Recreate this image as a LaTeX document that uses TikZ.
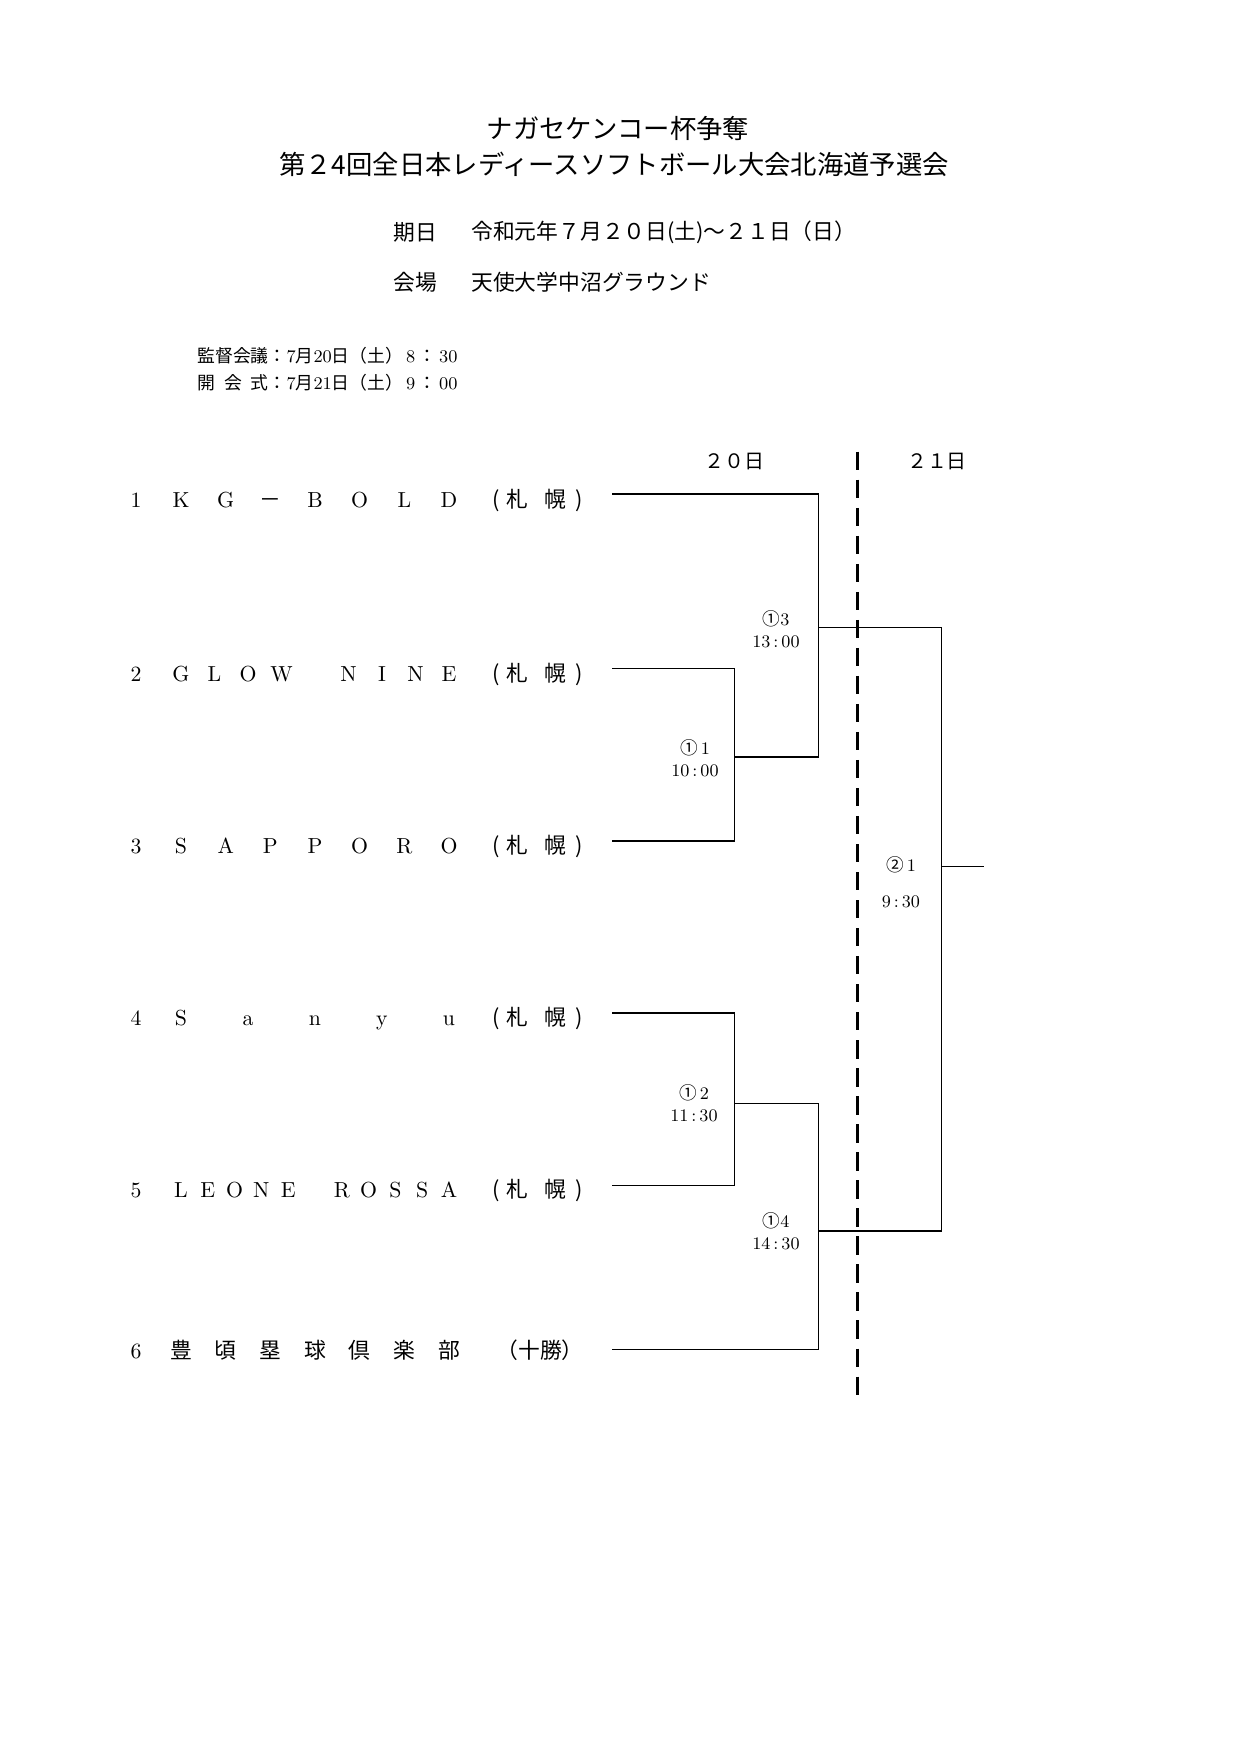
\documentclass[tikz,border=0pt]{standalone}
\usepackage{fontspec}
\newfontfamily\jp{Noto Sans CJK JP}
\usepackage{tikz}

% team names: letters spread evenly over a fixed width
\newcommand{\spreadname}[1]{%
  \makebox[49.15mm][s]{\foreach \ch [count=\k] in {#1}{\ifnum\k>1 \hfill\fi\makebox[3.73mm]{\ch}}}}
\newcommand{\sapporo}{(\hspace{.3em}札\hspace{.75em}幌\hspace{.4em})}

\tikzset{
  team/.style={anchor=base,inner sep=0pt,font=\fontsize{10.5}{12}\selectfont},
  region/.style={team,font=\jp\fontsize{10.5}{12}\selectfont},
  bracket/.style={line width=0.7pt},
  daysep/.style={line width=1.7pt,dash pattern=on 3.1mm off 1.65mm},
  gametime/.style={align=center,inner sep=0pt,font=\fontsize{8.5}{10.6}\selectfont},
}

\begin{document}
\begin{tikzpicture}[x=0.16949mm,y=-0.16949mm]
\fill[white] (0,0) rectangle (1239,1754);
\path[use as bounding box] (0,0) rectangle (1239,1754);

% heading
\node[font=\jp\fontsize{12.7}{15}\selectfont] (title1) at (618,128.6) {ナガセケンコー杯争奪};
\node[font=\jp\fontsize{12.7}{15}\selectfont] (title2) at (614,164) {第２4回全日本レディースソフトボール大会北海道予選会};
\node[anchor=west,inner sep=0pt,font=\jp\fontsize{10.5}{12}\selectfont] (datelbl) at (393,232.6) {期日};
\node[anchor=west,inner sep=0pt,font=\jp\fontsize{10.5}{12}\selectfont] (date) at (471,232.6) {令和元年７月２０日(土)～２１日（日）};
\node[anchor=west,inner sep=0pt,font=\jp\fontsize{10.5}{12}\selectfont] (venuelbl) at (393,281.8) {会場};
\node[anchor=west,inner sep=0pt,font=\jp\fontsize{10.5}{12}\selectfont] (venue) at (471,281.8) {天使大学中沼グラウンド};
\node[anchor=west,inner sep=0pt,font=\fontsize{8.6}{10}\selectfont] (meeting) at (197,355.6) {{\jp 監督会議：}7{\jp 月}20{\jp 日（土）}\,8\,{\jp ：}\,30};
\node[anchor=west,inner sep=0pt,font=\fontsize{8.6}{10}\selectfont] (opening) at (197,382.4) {{\jp\makebox[4em][s]{開\hfill 会\hfill 式}：}7{\jp 月}21{\jp 日（土）}\,9\,{\jp ：}\,00};

% days
\node[font=\jp\fontsize{9.6}{11}\selectfont] (day1) at (734.6,461.8) {２０日};
\node[font=\jp\fontsize{9.6}{11}\selectfont] (day2) at (937,461.8) {２１日};
\coordinate (d1) at (857.7,451.7);
\coordinate (d2) at (857.7,1395.5);
\draw[daysep] (d1) -- (d2);

% teams
\node[team] (n1) at (136,507) {1};
\node[team] (t1) at (315,507) {\spreadname{K,G,{\jp －},B,O,L,D}};
\node[region] (r1) at (537.5,507) {\sapporo};
\node[team] (n2) at (136,681) {2};
\node[team] (t2) at (315,681) {\spreadname{G,L,O,W,{},N,I,N,E}};
\node[region] (r2) at (537.5,681) {\sapporo};
\node[team] (n3) at (136,853) {3};
\node[team] (t3) at (315,853) {\spreadname{S,A,P,P,O,R,O}};
\node[region] (r3) at (537.5,853) {\sapporo};
\node[team] (n4) at (136,1025) {4};
\node[team] (t4) at (315,1025) {\spreadname{S,a,n,y,u}};
\node[region] (r4) at (537.5,1025) {\sapporo};
\node[team] (n5) at (136,1197) {5};
\node[team] (t5) at (315,1197) {\spreadname{L,E,O,N,E,{},R,O,S,S,A}};
\node[region] (r5) at (537.5,1197) {\sapporo};
\node[team] (n6) at (136,1358) {6};
\node[team] (t6) at (315,1358) {\spreadname{{\jp 豊},{\jp 頃},{\jp 塁},{\jp 球},{\jp 倶},{\jp 楽},{\jp 部}}};
\node[region] (r6) at (540,1358) {（十勝）};

% bracket
\coordinate (s1) at (612,494.2);
\coordinate (s2) at (612,668.7);
\coordinate (s3) at (612,840.9);
\coordinate (s4) at (612,1013.1);
\coordinate (s5) at (612,1185.3);
\coordinate (s6) at (612,1349.7);
\coordinate (w1) at (734.6,757);
\coordinate (w2) at (734.6,1103.7);
\coordinate (w3) at (818.5,627.3);
\coordinate (w4) at (818.5,1231);
\coordinate (wf) at (941.5,866.6);
\coordinate (champ) at (984,866.6);
\draw[bracket] (s2) -| (w1) |- (s3);
\draw[bracket] (s4) -| (w2) |- (s5);
\draw[bracket] (s1) -| (w3) |- (w1);
\draw[bracket] (w2) -| (w4) |- (s6);
\draw[bracket] (w3) -| (wf) |- (w4);
\draw[bracket] (wf) -- (champ);

% game numbers and times
\node[gametime] (g1) at (695,758) {{\jp ①}\,1\\10\,:\,00};
\node[gametime] (g2) at (694,1103.5) {{\jp ①}\,2\\11\,:\,30};
\node[gametime] (g3) at (776,629) {{\jp ①}3\\13\,:\,00};
\node[gametime] (g4) at (776,1231.5) {{\jp ①}4\\14\,:\,30};
\node[gametime] (gf) at (901,882) {{\jp ②}\,1\\[6.7pt]9\,:\,30};
\end{tikzpicture}
\end{document}
